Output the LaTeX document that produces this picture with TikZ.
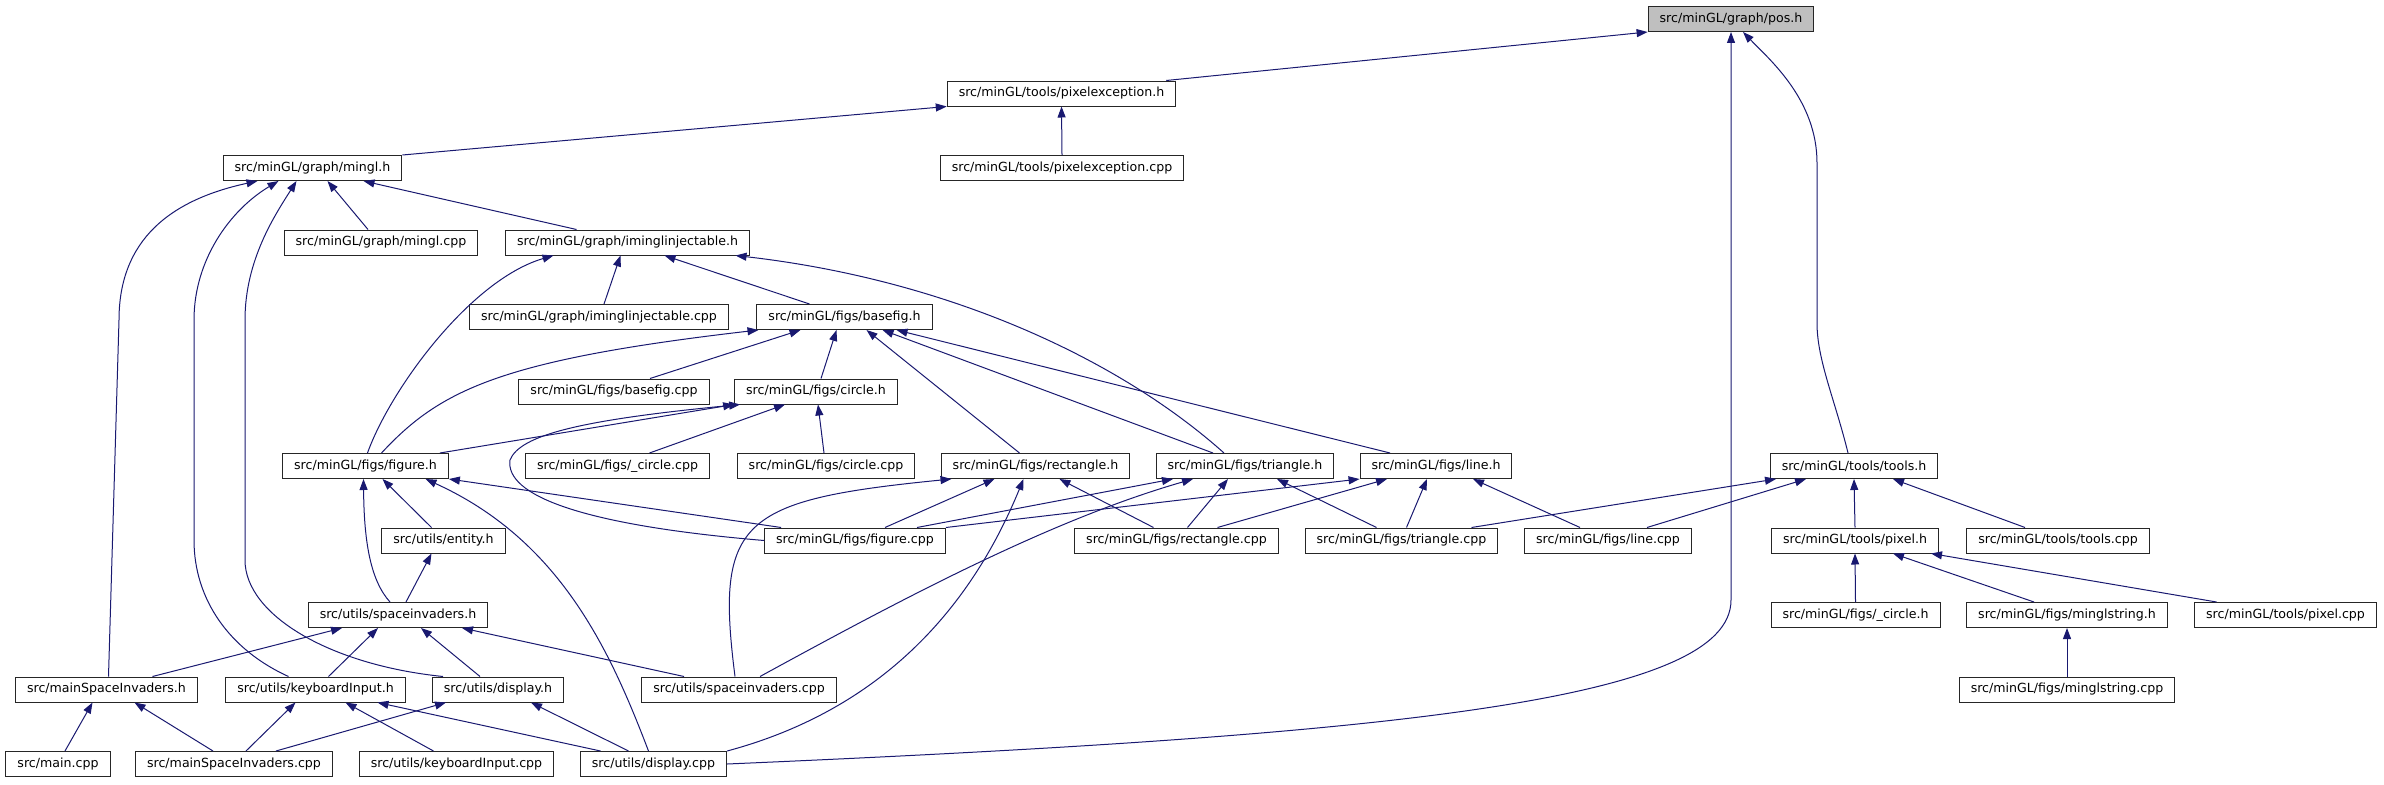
\documentclass[tikz,border=0pt]{standalone}
\usepackage{fontspec}
\setmainfont{DejaVu Sans}
\usepackage{tikz}
\usetikzlibrary{positioning,arrows.meta}
\definecolor{edgeblue}{HTML}{191970}
\definecolor{rootgray}{HTML}{BFBFBF}
\definecolor{boxline}{HTML}{262626}

\tikzset{
  srcfile/.style={draw=boxline, line width=1pt, fill=white, minimum height=25pt,
    inner xsep=11.5pt, inner ysep=0pt, font=\fontsize{12.6}{14}\selectfont},
  rootfile/.style={srcfile, fill=rootgray},
  dep/.style={draw=edgeblue, line width=1pt, -{Triangle[length=11pt,width=8pt]}},
}

\begin{document}
\begin{tikzpicture}[x=1pt,y=-1pt]
  \useasboundingbox (0,0) rectangle (2384,784);

  % headers and sources, one row at a time
  \node[rootfile] (pos) at (1731,19) {src/minGL/graph/pos.h};
  \node[srcfile] (pixexh) at (1061.5,93.5) {src/minGL/tools/pixelexception.h};
  \node[srcfile] (mingl) at (312.5,168) {src/minGL/graph/mingl.h};
  \node[srcfile] (pixexcpp) at (1062,168) {src/minGL/tools/pixelexception.cpp};
  \node[srcfile] (minglcpp) at (381,242.5) {src/minGL/graph/mingl.cpp};
  \node[srcfile] (iminj) at (627.5,242.5) {src/minGL/graph/iminglinjectable.h};
  \node[srcfile] (iminjcpp) at (599,317) {src/minGL/graph/iminglinjectable.cpp};
  \node[srcfile] (basefig) at (844.5,317) {src/minGL/figs/basefig.h};
  \node[srcfile] (basefigcpp) at (614,391.5) {src/minGL/figs/basefig.cpp};
  \node[srcfile] (circle) at (816,391.5) {src/minGL/figs/circle.h};
  \node[srcfile] (figure) at (365.5,466) {src/minGL/figs/figure.h};
  \node[srcfile] (ucirclecpp) at (617.5,466) {src/minGL/figs/\_circle.cpp};
  \node[srcfile] (circlecpp) at (826,466) {src/minGL/figs/circle.cpp};
  \node[srcfile] (rect) at (1035.5,466) {src/minGL/figs/rectangle.h};
  \node[srcfile] (tri) at (1245,466) {src/minGL/figs/triangle.h};
  \node[srcfile] (line) at (1436,466) {src/minGL/figs/line.h};
  \node[srcfile] (tools) at (1854,466) {src/minGL/tools/tools.h};
  \node[srcfile] (entity) at (443.5,540.5) {src/utils/entity.h};
  \node[srcfile] (figurecpp) at (855,540.5) {src/minGL/figs/figure.cpp};
  \node[srcfile] (rectcpp) at (1176.5,540.5) {src/minGL/figs/rectangle.cpp};
  \node[srcfile] (tricpp) at (1401.5,540.5) {src/minGL/figs/triangle.cpp};
  \node[srcfile] (linecpp) at (1608,540.5) {src/minGL/figs/line.cpp};
  \node[srcfile] (pixel) at (1855,540.5) {src/minGL/tools/pixel.h};
  \node[srcfile] (toolscpp) at (2058,540.5) {src/minGL/tools/tools.cpp};
  \node[srcfile] (spinv) at (398,615) {src/utils/spaceinvaders.h};
  \node[srcfile] (ucircle) at (1855.5,615) {src/minGL/figs/\_circle.h};
  \node[srcfile] (mstr) at (2067,615) {src/minGL/figs/minglstring.h};
  \node[srcfile] (pixelcpp) at (2285.5,615) {src/minGL/tools/pixel.cpp};
  \node[srcfile] (mainsih) at (106.5,689.5) {src/mainSpaceInvaders.h};
  \node[srcfile] (kbd) at (315.5,689.5) {src/utils/keyboardInput.h};
  \node[srcfile] (disp) at (498,689.5) {src/utils/display.h};
  \node[srcfile] (spinvcpp) at (739,689.5) {src/utils/spaceinvaders.cpp};
  \node[srcfile] (mstrcpp) at (2067,689.5) {src/minGL/figs/minglstring.cpp};
  \node[srcfile] (maincpp) at (58,764) {src/main.cpp};
  \node[srcfile] (mainsicpp) at (234,764) {src/mainSpaceInvaders.cpp};
  \node[srcfile] (kbdcpp) at (456.5,764) {src/utils/keyboardInput.cpp};
  \node[srcfile] (dispcpp) at (653.5,764) {src/utils/display.cpp};

  % pos.h
  \draw[dep] ([xshift=-10]pixexh.north east) -- (pos.south west);
  \draw[dep] (dispcpp.east) .. controls (1400,735) and (1731,700) .. (1731,600) -- (pos.south);
  \draw[dep] ([xshift=-6]tools.north) .. controls (1835,400) and (1817,360) .. (1817,323)
    -- (1817,163) .. controls (1817,100) and (1770,60) .. ([xshift=12]pos.south);

  % pixelexception.h
  \draw[dep] (pixexcpp.north) -- (pixexh.south);
  \draw[dep] (mingl.north east) -- (pixexh.south west);

  % mingl.h
  \draw[dep] ([xshift=-13]minglcpp.north) -- ([xshift=15]mingl.south);
  \draw[dep] ([xshift=-51]iminj.north) -- ([xshift=51]mingl.south);
  \draw[dep] ([xshift=2]mainsih.north) -- (119,320) .. controls (119,240) and (170,200) .. ([xshift=-55]mingl.south);
  \draw[dep] ([xshift=-27]kbd.north) .. controls (230,650) and (194,600) .. (194,540)
    -- (194,320) .. controls (194,260) and (230,210) .. ([xshift=-34]mingl.south);
  \draw[dep] ([xshift=-55]disp.north) .. controls (330,665) and (245,615) .. (245,560)
    -- (245,320) .. controls (245,260) and (275,215) .. ([xshift=-16]mingl.south);

  % iminglinjectable.h
  \draw[dep] ([xshift=5]iminjcpp.north) -- ([xshift=-7]iminj.south);
  \draw[dep] ([xshift=2]figure.north) .. controls (390,390) and (470,280) .. ([xshift=-74]iminj.south);
  \draw[dep] ([xshift=-35]basefig.north) -- ([xshift=37]iminj.south);
  \draw[dep] ([xshift=-21]tri.north) .. controls (1120,360) and (950,280) .. ([xshift=108]iminj.south);

  % basefig.h
  \draw[dep] ([xshift=36]basefigcpp.north) -- ([xshift=-44]basefig.south);
  \draw[dep] ([xshift=16]figure.north) .. controls (440,390) and (500,360) .. ([xshift=-86]basefig.south);
  \draw[dep] ([xshift=5]circle.north) -- ([xshift=-8]basefig.south);
  \draw[dep] ([xshift=-16]rect.north) -- ([xshift=22]basefig.south);
  \draw[dep] ([xshift=-32]tri.north) -- ([xshift=38]basefig.south);
  \draw[dep] ([xshift=-46]line.north) -- ([xshift=52]basefig.south);

  % circle.h
  \draw[dep] ([xshift=-2]circlecpp.north) -- ([xshift=2]circle.south);
  \draw[dep] ([xshift=-9]figure.north east) -- (circle.south west);
  \draw[dep] (figurecpp.west) .. controls (580,525) and (505,495) .. (510,460)
    .. controls (520,435) and (580,420) .. ([xshift=6]circle.south west);
  \draw[dep] ([xshift=32]ucirclecpp.north) -- ([xshift=-31]circle.south);

  % figure.h
  \draw[dep] ([xshift=-12]entity.north) -- ([xshift=17]figure.south);
  \draw[dep] ([xshift=-8]spinv.north) .. controls (370,580) and (364,540) .. ([xshift=-2]figure.south);
  \draw[dep] ([xshift=17]figurecpp.north west) -- (figure.south east);
  \draw[dep] ([xshift=-5]dispcpp.north) .. controls (610,650) and (560,540) .. ([xshift=60]figure.south);

  % entity.h
  \draw[dep] ([xshift=8]spinv.north) -- ([xshift=-12]entity.south);

  % spaceinvaders.h
  \draw[dep] ([xshift=46]mainsih.north) -- ([xshift=-56]spinv.south);
  \draw[dep] ([xshift=13]kbd.north) -- ([xshift=-20]spinv.south);
  \draw[dep] ([xshift=-18]disp.north) -- ([xshift=23]spinv.south);
  \draw[dep] ([xshift=-55]spinvcpp.north) -- ([xshift=64]spinv.south);

  % mainSpaceInvaders.h, keyboardInput.h, display.h
  \draw[dep] ([xshift=7]maincpp.north) -- ([xshift=-14]mainsih.south);
  \draw[dep] ([xshift=-21]mainsicpp.north) -- ([xshift=28]mainsih.south);
  \draw[dep] ([xshift=12]mainsicpp.north) -- ([xshift=-20]kbd.south);
  \draw[dep] ([xshift=-23]kbdcpp.north) -- ([xshift=30]kbd.south);
  \draw[dep] ([xshift=-53]dispcpp.north) -- ([xshift=62]kbd.south);
  \draw[dep] ([xshift=42]mainsicpp.north) -- ([xshift=-52]disp.south);
  \draw[dep] ([xshift=-25]dispcpp.north) -- ([xshift=33]disp.south);

  % rectangle.h
  \draw[dep] ([xshift=30]figurecpp.north) -- ([xshift=-41]rect.south);
  \draw[dep] ([xshift=-4]spinvcpp.north) .. controls (715,520) and (740,500) .. ([xshift=-84]rect.south);
  \draw[dep] (dispcpp.north east) .. controls (880,710) and (970,610) .. ([xshift=-12]rect.south);
  \draw[dep] ([xshift=-23]rectcpp.north) -- ([xshift=24]rect.south);

  % triangle.h
  \draw[dep] ([xshift=62]figurecpp.north) -- ([xshift=-72]tri.south);
  \draw[dep] ([xshift=21]spinvcpp.north) .. controls (900,600) and (1050,520) .. ([xshift=-52]tri.south);
  \draw[dep] ([xshift=11]rectcpp.north) -- ([xshift=-17]tri.south);
  \draw[dep] ([xshift=-25]tricpp.north) -- ([xshift=32]tri.south);

  % line.h
  \draw[dep] (figurecpp.north east) -- (line.south west);
  \draw[dep] ([xshift=41]rectcpp.north) -- ([xshift=-49]line.south);
  \draw[dep] ([xshift=5]tricpp.north) -- ([xshift=-9]line.south);
  \draw[dep] ([xshift=-28]linecpp.north) -- ([xshift=37]line.south);

  % tools.h
  \draw[dep] ([xshift=70]tricpp.north) -- ([xshift=-78]tools.south);
  \draw[dep] ([xshift=39]linecpp.north) -- ([xshift=-48]tools.south);
  \draw[dep] (pixel.north) -- (tools.south);
  \draw[dep] ([xshift=-33]toolscpp.north) -- ([xshift=39]tools.south);

  % pixel.h, minglstring.h
  \draw[dep] (ucircle.north) -- (pixel.south);
  \draw[dep] ([xshift=-33]mstr.north) -- ([xshift=38]pixel.south);
  \draw[dep] ([xshift=-69]pixelcpp.north) -- ([xshift=76]pixel.south);
  \draw[dep] (mstrcpp.north) -- (mstr.south);
\end{tikzpicture}
\end{document}
